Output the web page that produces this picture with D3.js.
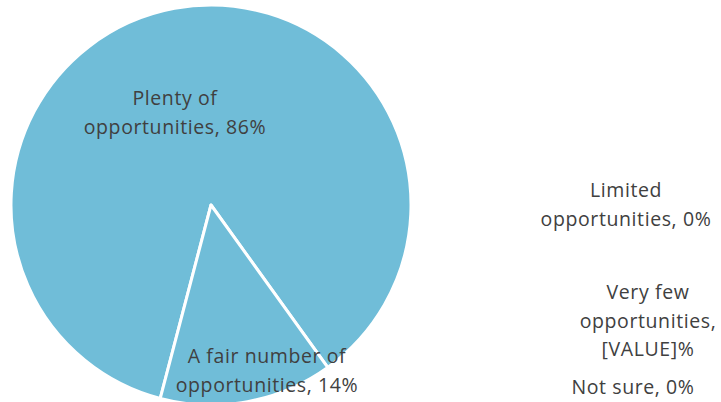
<!DOCTYPE html>
<html>
<head>
<meta charset="utf-8">
<script src="https://cdn.jsdelivr.net/npm/d3@7"></script>
<style>
  body { margin: 0; background: #fff; }
  text { font-family: "Open Sans", sans-serif; font-size: 19.5px; letter-spacing: 0.6px; fill: #404040; }
</style>
</head>
<body>
<div id="chart"></div>
<script>
const categories = ["Plenty of opportunities", "A fair number of opportunities", "Limited opportunities", "Very few opportunities", "Not sure"];
const values = [86, 14, 0, 0, 0];
const valueLabels = ["86%", "14%", "0%", "[VALUE]%", "0%"];
const labelLines = [
    ["Plenty of", "opportunities, 86%"],
    ["A fair number of", "opportunities, 14%"],
    ["Limited", "opportunities, 0%"],
    ["Very few", "opportunities,", "[VALUE]%"],
    ["Not sure, 0%"]
];

const width = 721, height = 402;
const cx = 211, cy = 205, radius = 200;

const svg = d3.select("#chart")
    .append("svg")
    .attr("width", width)
    .attr("height", height);

const g = svg.append("g").attr("transform", `translate(${cx},${cy})`);

const startDeg = 194.7;
const pie = d3.pie()
    .sort(null)
    .value(d => d)
    .startAngle(startDeg * Math.PI / 180)
    .endAngle((startDeg + 360) * Math.PI / 180);

const arc = d3.arc().innerRadius(0).outerRadius(radius);

g.selectAll("path")
    .data(pie(values).filter(d => d.data > 0))
    .enter()
    .append("path")
    .attr("d", arc)
    .attr("fill", "#70bdd8")
    .attr("stroke", "#fff")
    .attr("stroke-width", 3)
    .attr("stroke-linejoin", "round");

// label anchors (centre x, first baseline, line step)
const labelPos = [[175, 105, 29], [267, 363, 29], [626, 197, 28.5], [648, 299, 28.5], [633, 394, 0]];

labelLines.forEach((lines, i) => {
    const t = svg.append("text")
        .attr("text-anchor", "middle")
        .attr("x", labelPos[i][0])
        .attr("y", labelPos[i][1]);
    lines.forEach((ln, j) => {
        t.append("tspan")
            .attr("x", labelPos[i][0])
            .attr("dy", j === 0 ? 0 : labelPos[i][2])
            .text(ln);
    });
});
</script>
</body>
</html>
